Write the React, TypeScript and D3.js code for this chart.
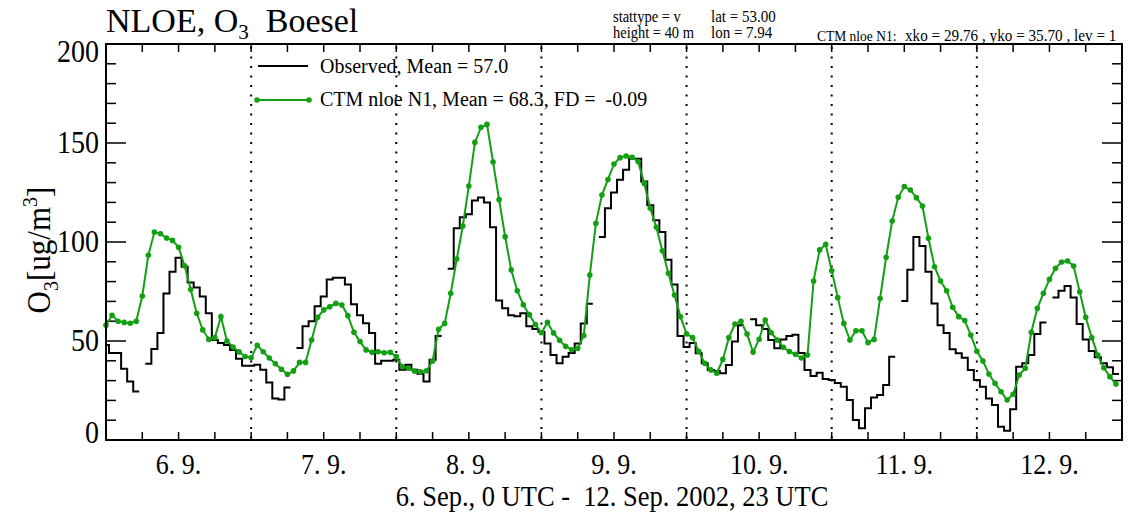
import React from 'react';
import * as d3 from 'd3';

// Hourly values, 6 Sep 2002 00 UTC .. 12 Sep 2002 23 UTC (168 hours)
const observed: (number | null)[] = [
  48, 44, 44, 36, 29.5, 24.5, null, 38.5, 46, 54, 74, 85, 92, 87.5, 79.5, 77, 72.5, 64, 50.5, 49, 48, 45.5, 41, 37.5,
  37.5, 38, 35.5, 29, 21, 20.5, 26.5, null, 46.5, 57.5, 60, 67.5, 72.5, 81, 82, 82, 78.5, 68.5, 63, 59, 54, 38.5, 40, 40,
  40.5, 35.5, 38, 35.5, 33.5, 29.5, 40.5, 52.5, null, 86.5, 107, 112.5, 114, 121, 122.5, 120, 107.5, 70.5, 66.5, 63, 62.5, 64, 57.5, 56,
  54.7, 48.8, 42.9, 38.7, 42, 44, 48.8, 58.9, 68.8, null, 102.5, 117, 125, 131.5, 136.5, 142, 142, 130.5, 118.5, 111, 105, 91, 78.5, 52.5,
  47, 49, 43.8, 38.7, 35.4, 34.8, 33.7, 37.9, 49.7, 58, null, 61, 58, 56, 50.5, 46.3, 50.8, 52.5, 53.2, 44, 35.4, 32.3, 34, 30.8,
  30.3, 28.8, 26.9, 20.2, 10.1, 5.9, 16, 21.5, 22.7, 27.8, 42, null, 70.2, 86, 102.5, 98, 85, 69, 58, 54, 45.8, 43.8, 41.6, 35.4,
  30.3, 26.9, 21, 17.7, 6.7, 4.7, 15.5, 37, 38.7, 42.9, 53.5, 59.3, null, 72, 75.4, 77.8, 72, 58.6, 50.8, 45, 41.8, 38.7, 36.7, 33.3,
];

const model: number[] = [
  58, 63, 60, 59.4, 59, 60, 72.7, 93.3, 105, 104.2, 102, 100.8, 97.3, 88, 76, 64, 55.6, 50.8, 51.7, 62.3, 50, 47, 44.5, 42.2,
  41.5, 47.8, 44.6, 41.4, 38.5, 35.7, 33.2, 34.9, 39.2, 39.2, 50.5, 62, 65.7, 67.3, 69, 68.2, 62.8, 54.4, 49.7, 45.5, 44.3, 44.6, 44.1, 44.3,
  42.1, 37, 36.2, 34.8, 34.5, 35, 39.9, 55.9, 58.9, 74.1, 91.4, 108.1, 128.3, 150.3, 157.9, 159.4, 140.4, 121.4, 102.7, 85.9, 75.4, 68.3, 63.3, 58.3,
  54.2, 59.4, 54.1, 50.4, 47.3, 45.6, 46.3, 52.8, 83.3, 109.4, 123.7, 131.6, 139.4, 142.6, 143.4, 142.8, 140.6, 129.6, 117, 107.4, 95.6, 84.2, 73.2, 62.2,
  53.6, 51.7, 44.8, 38.7, 35.4, 33.7, 40.7, 51.7, 58.6, 60, 53.5, 44.4, 50.9, 60.6, 54.2, 50.5, 46.8, 44.7, 43.3, 41.4, 42.9, 80.3, 96, 98.8,
  85.5, 71.9, 58.9, 50.5, 55.2, 55.2, 49.2, 50.8, 71.5, 92.3, 110.6, 122.6, 128, 126.3, 122.4, 118.2, 101.9, 87.5, 80.3, 75.4, 67, 62.3, 60.3, 53,
  44.8, 39.9, 33.3, 28.6, 24.4, 20.2, 23.1, 32.8, 36.2, 54.4, 66.5, 74.1, 81.1, 86.7, 89.9, 90.4, 87.9, 74.9, 62, 51.7, 42.9, 36.5, 32, 28.3,
];

const dayLabels = ['6. 9.', '7. 9.', '8. 9.', '9. 9.', '10. 9.', '11. 9.', '12. 9.'];
const yMajorTicks = [0, 50, 100, 150, 200];
const obsLegend = 'Observed, Mean = 57.0';
const modLegend = 'CTM nloe N1, Mean = 68.3, FD =  -0.09';
const xTitle = '6. Sep., 0 UTC -  12. Sep. 2002, 23 UTC';

const GREEN = '#12a012';
const FONT = '"Liberation Serif", "Times New Roman", serif';

function TallText(props: {
  x: number;
  y: number;
  sy?: number;
  fontSize: number;
  anchor?: string;
  children: React.ReactNode;
}) {
  const { x, y, sy = 1.15, fontSize, anchor = 'start', children } = props;
  return (
    <text
      transform={`translate(${x},${y}) scale(1,${sy})`}
      fontSize={fontSize}
      textAnchor={anchor}
      style={{ whiteSpace: 'pre' }}
    >
      {children}
    </text>
  );
}

export default function App() {
  const W = 1128;
  const H = 518;
  const L = 106, R = 1122, T = 44, B = 440;
  const nHours = observed.length;
  const x = d3.scaleLinear().domain([0, nHours]).range([L, R]);
  const y = d3.scaleLinear().domain([0, 200]).range([B, T]);

  // step (histogram) path for observed
  const stepPts: ({ h: number; v: number } | null)[] = [];
  observed.forEach((v, h) => {
    if (v == null) {
      stepPts.push(null);
    } else {
      stepPts.push({ h: Math.max(0, h - 0.5), v });
      stepPts.push({ h: Math.min(nHours, h + 0.5), v });
    }
  });
  const stepLine = d3
    .line<any>()
    .defined((d) => d != null)
    .x((d) => x(d.h))
    .y((d) => y(d.v));
  const obsPath = stepLine(stepPts) || '';

  const modLine = d3
    .line<number>()
    .x((_, i) => x(i))
    .y((d) => y(d));
  const modPath = modLine(model) || '';

  const yMinor = d3.range(0, 201, 10);
  const xMinor = d3.range(0, nHours + 1, 6);
  const dayBounds = d3.range(24, nHours, 24);

  return (
    <svg
      width={W}
      height={H}
      style={{ position: 'absolute', left: 0, top: 0, background: '#fff' }}
      fontFamily={FONT}
    >
      <rect x={0} y={0} width={W} height={H} fill="#fff" />
      {/* title */}
      <text x={106} y={32} fontSize={34} style={{ whiteSpace: 'pre' }}>
        NLOE, O<tspan dy={7} fontSize={21}>3</tspan>
        <tspan dy={-7}>{'  Boesel'}</tspan>
      </text>
      {/* info text */}
      <g>
        <TallText x={613} y={22} fontSize={14.5} sy={1.08}>stattype = v</TallText>
        <TallText x={613} y={38} fontSize={14.5} sy={1.08}>height = 40 m</TallText>
        <TallText x={711} y={22} fontSize={15} sy={1.08}>lat = 53.00</TallText>
        <TallText x={711} y={38} fontSize={15} sy={1.08}>lon = 7.94</TallText>
        <TallText x={817} y={41} fontSize={13.5} sy={1.05}>CTM nloe N1:</TallText>
        <TallText x={905} y={41} fontSize={15.2} sy={1.05}>xko = 29.76 , yko = 35.70 , lev = 1</TallText>
      </g>

      {/* day boundaries dotted */}
      {dayBounds.map((h) => (
        <line
          key={'d' + h}
          x1={x(h)}
          x2={x(h)}
          y1={T + 3}
          y2={B}
          stroke="#000"
          strokeWidth={2}
          strokeDasharray="2 7.5"
        />
      ))}

      {/* ticks */}
      {yMinor.map((v) => {
        const len = v % 50 === 0 ? 20 : 10;
        return (
          <g key={'yt' + v}>
            <line x1={L} x2={L + len} y1={y(v)} y2={y(v)} stroke="#000" strokeWidth={1.5} />
            <line x1={R} x2={R - len} y1={y(v)} y2={y(v)} stroke="#000" strokeWidth={1.5} />
          </g>
        );
      })}
      {xMinor.map((h) => (
        <g key={'xt' + h}>
          <line x1={x(h)} x2={x(h)} y1={B} y2={B - 8} stroke="#000" strokeWidth={1.5} />
          <line x1={x(h)} x2={x(h)} y1={T} y2={T + 8} stroke="#000" strokeWidth={1.5} />
        </g>
      ))}

      {/* y tick labels */}
      {yMajorTicks.map((v) => {
        const cy = Math.min(B - 7, Math.max(T + 8, y(v)));
        return (
          <TallText key={'yl' + v} x={99} y={cy + 10} fontSize={28} sy={1.12} anchor="end">
            {String(v)}
          </TallText>
        );
      })}
      {/* x day labels */}
      {dayLabels.map((d, i) => (
        <TallText key={'xl' + i} x={x(i * 24 + 12)} y={474} fontSize={26} sy={1.15} anchor="middle">
          {d}
        </TallText>
      ))}
      <TallText x={612} y={506} fontSize={26.5} sy={1.12} anchor="middle">
        {xTitle}
      </TallText>
      {/* y axis title */}
      <text transform="translate(50,250) rotate(-90) scale(1,1.1)" fontSize={31} textAnchor="middle">
        O<tspan dy={7} fontSize={20}>3</tspan>
        <tspan dy={-7}>[ug/m</tspan>
        <tspan dy={-12} fontSize={20}>3</tspan>
        <tspan dy={12}>]</tspan>
      </text>

      {/* data */}
      <path d={obsPath} fill="none" stroke="#000" strokeWidth={2} />
      <path d={modPath} fill="none" stroke={GREEN} strokeWidth={2} />
      {model.map((v, i) => (
        <circle key={'c' + i} cx={x(i)} cy={y(v)} r={2.8} fill={GREEN} />
      ))}

      {/* legend */}
      <line x1={258} x2={308} y1={66} y2={66} stroke="#000" strokeWidth={2} />
      <TallText x={320} y={73} fontSize={20} sy={1.08}>
        {obsLegend}
      </TallText>
      <line x1={257} x2={309} y1={100} y2={100} stroke={GREEN} strokeWidth={2} />
      <circle cx={257} cy={100} r={2.8} fill={GREEN} />
      <circle cx={309} cy={100} r={2.8} fill={GREEN} />
      <TallText x={320} y={106} fontSize={20} sy={1.08}>
        {modLegend}
      </TallText>

      {/* frame */}
      <rect x={L} y={T} width={R - L} height={B - T} fill="none" stroke="#000" strokeWidth={2} />
    </svg>
  );
}
